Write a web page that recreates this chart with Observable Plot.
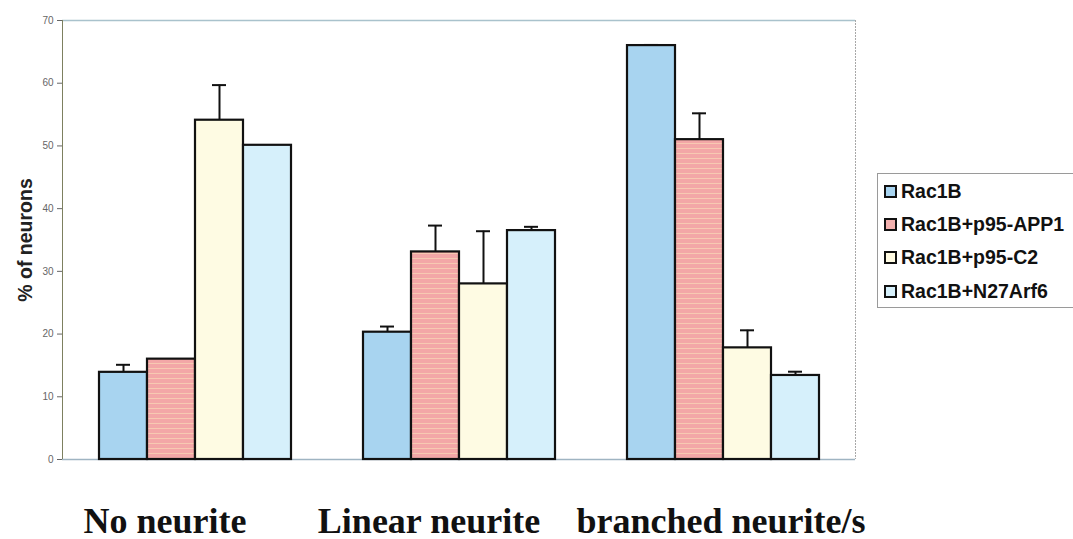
<!DOCTYPE html>
<html>
<head>
<meta charset="utf-8">
<script src="https://cdn.jsdelivr.net/npm/d3@7"></script>
<script src="https://cdn.jsdelivr.net/npm/@observablehq/plot@0.6"></script>
<style>
  body { margin: 0; background: #fff; }
  #wrap { position: relative; width: 1073px; height: 539px; overflow: hidden; background: #fff; }
  #wrap > svg, #wrap > figure { position: absolute; left: 0; top: 0; margin: 0; }
  #legend { position: absolute; left: 877px; top: 173px; width: 220px; height: 133px;
            border: 1px solid #9a9a9a; border-right: none; background: #fff;
            font-family: "Liberation Sans", Arial, sans-serif; font-weight: bold; font-size: 19.5px; color: #111; }
  .row { position: absolute; left: 6px; height: 20px; display: flex; align-items: center; }
  .sw { width: 9px; height: 9px; border: 2px solid #111; margin-right: 4px; }
</style>
</head>
<body>
<svg width="0" height="0" style="position:absolute">
  <defs>
    <pattern id="pinkStripe" patternUnits="userSpaceOnUse" width="8" height="5">
      <rect width="8" height="5" fill="#f3a7a7"></rect>
      <rect y="3" width="8" height="1" fill="#f7c9b2"></rect>
    </pattern>
  </defs>
</svg>
<div id="wrap"></div>
<script>
const groups = ["No neurite", "Linear neurite", "branched neurite/s"];
const series = ["Rac1B", "Rac1B+p95-APP1", "Rac1B+p95-C2", "Rac1B+N27Arf6"];
const noNeurite = [13.9, 16.0, 54.1, 50.1];
const noNeuriteErr = [1.2, 0, 5.6, 0];
const linearNeurite = [20.3, 33.1, 28.0, 36.5];
const linearNeuriteErr = [0.9, 4.2, 8.4, 0.6];
const branchedNeurite = [66.0, 51.0, 17.8, 13.4];
const branchedNeuriteErr = [0.1, 4.2, 2.8, 0.6];
const yTicks = [0, 10, 20, 30, 40, 50, 60, 70];
const seriesColors = ["#a8d4f0", "url(#pinkStripe)", "#fefbe3", "#d6f0fb"];
const legendColors = ["#a8d4f0", "#f2b0ae", "#fffbe2", "#d6f0fb"];

const values = [noNeurite, linearNeurite, branchedNeurite];
const errs = [noNeuriteErr, linearNeuriteErr, branchedNeuriteErr];
const data = [];
groups.forEach((g, gi) => series.forEach((s, si) => {
  data.push({group: g, series: s, value: values[gi][si], err: errs[gi][si]});
}));
const withErr = data.filter(d => d.err > 0);

const W = 1073, H = 539;
const M = {marginLeft: 62, marginRight: 218, marginTop: 20, marginBottom: 80};

const back = Plot.plot({
  width: W, height: H, ...M,
  style: {fontFamily: "Liberation Sans, Arial, sans-serif", fontSize: "10px", color: "#666", background: "transparent"},
  x: {domain: [0, 1], axis: null},
  y: {domain: [0, 70], ticks: yTicks, tickSize: 5, label: null},
  marks: [
    Plot.ruleY([70], {stroke: "#a9c2cc", strokeWidth: 1.5}),
    Plot.ruleY([0], {stroke: "#9fb4c2", strokeWidth: 1.5}),
    Plot.ruleX([1], {stroke: "#a8a8a8", strokeWidth: 1, strokeDasharray: "2,1"}),
    Plot.ruleX([0], {stroke: "#7d8060", strokeWidth: 1}),
    Plot.text(["% of neurons"], {frameAnchor: "left", textAnchor: "middle", dx: -37, rotate: -90,
      fontSize: 19.5, fontWeight: "bold", fill: "#222"})
  ]
});

const front = Plot.plot({
  width: W, height: H, ...M,
  style: {background: "transparent"},
  fx: {domain: groups, paddingInner: 0.262, paddingOuter: 0.131, axis: null},
  x: {domain: series, padding: 0, axis: null},
  y: {domain: [0, 70], axis: null},
  color: {domain: series, range: seriesColors},
  marks: [
    Plot.ruleX(withErr, {fx: "group", x: "series", y1: "value", y2: d => d.value + d.err, stroke: "#111", strokeWidth: 2}),
    Plot.tickY(withErr, {fx: "group", x: "series", y: d => d.value + d.err, stroke: "#111", strokeWidth: 2, insetLeft: 17, insetRight: 17}),
    Plot.barY(data, {fx: "group", x: "series", y: "value", fill: "series", stroke: "#111", strokeWidth: 2.2}),
    Plot.text(groups.slice(0, 2), {fx: d => d, text: d => d, frameAnchor: "bottom", dy: 73, dx: -30,
      fontFamily: "Liberation Serif, Times New Roman, serif", fontWeight: "bold", fontSize: 36, fill: "#111"}),
    Plot.text(groups.slice(2), {fx: d => d, text: d => d, frameAnchor: "bottom", dy: 73, dx: -2,
      fontFamily: "Liberation Serif, Times New Roman, serif", fontWeight: "bold", fontSize: 36, fill: "#111"})
  ]
});

const wrap = document.getElementById("wrap");
wrap.appendChild(back);
wrap.appendChild(front);

const legend = document.createElement("div");
legend.id = "legend";
series.forEach((s, i) => {
  const row = document.createElement("div");
  row.className = "row";
  row.style.top = (7 + i * 33.4) + "px";
  const sw = document.createElement("span");
  sw.className = "sw";
  sw.style.background = legendColors[i];
  const t = document.createElement("span");
  t.textContent = s;
  row.appendChild(sw);
  row.appendChild(t);
  legend.appendChild(row);
});
wrap.appendChild(legend);
</script>
</body>
</html>
